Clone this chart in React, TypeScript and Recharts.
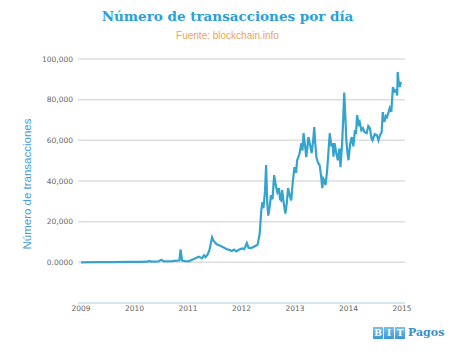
import React from 'react';
import { LineChart, Line, XAxis, YAxis, CartesianGrid } from 'recharts';

const years: number[] = [
  2009.0, 2009.3, 2009.6, 2009.9, 2010.1, 2010.25, 2010.28, 2010.31, 2010.45, 2010.5,
  2010.55, 2010.7, 2010.8, 2010.84, 2010.86, 2010.89, 2010.95, 2011.01, 2011.1, 2011.2,
  2011.26, 2011.3, 2011.33, 2011.37, 2011.4, 2011.45, 2011.48, 2011.53, 2011.58, 2011.65,
  2011.72, 2011.78, 2011.82, 2011.86, 2011.9, 2011.95, 2012.01, 2012.05, 2012.1, 2012.13,
  2012.18, 2012.24, 2012.3, 2012.34, 2012.37, 2012.39, 2012.41, 2012.44, 2012.46, 2012.48,
  2012.5, 2012.53, 2012.55, 2012.58, 2012.61, 2012.64, 2012.67, 2012.7, 2012.72, 2012.74,
  2012.76, 2012.79, 2012.82, 2012.85, 2012.87, 2012.9, 2012.93, 2012.96, 2012.99, 2013.02,
  2013.04, 2013.08, 2013.12, 2013.14, 2013.16, 2013.19, 2013.21, 2013.23, 2013.25, 2013.28,
  2013.31, 2013.34, 2013.36, 2013.38, 2013.4, 2013.43, 2013.46, 2013.49, 2013.51, 2013.53,
  2013.55, 2013.57, 2013.6, 2013.63, 2013.65, 2013.68, 2013.7, 2013.72, 2013.74, 2013.77,
  2013.8, 2013.83, 2013.85, 2013.88, 2013.9, 2013.92, 2013.94, 2013.96, 2013.98, 2014.0,
  2014.03, 2014.06, 2014.09, 2014.12, 2014.14, 2014.16, 2014.19, 2014.21, 2014.24, 2014.27,
  2014.3, 2014.34, 2014.37, 2014.4, 2014.43, 2014.45, 2014.49, 2014.53, 2014.56, 2014.59,
  2014.62, 2014.64, 2014.67, 2014.7, 2014.72, 2014.75, 2014.77, 2014.8, 2014.83, 2014.86,
  2014.89, 2014.91, 2014.92, 2014.94, 2014.96, 2014.98,
];

const transactions: number[] = [
  0, 100, 150, 200, 250, 300, 700, 300, 400, 1300,
  500, 600, 800, 1000, 6300, 900, 600, 500, 1500, 2800,
  2000, 3500, 2500, 4000, 6000, 12300, 10500, 9000, 8400, 7500,
  6600, 6000, 5600, 6300, 5400, 6200, 6800, 6500, 9500, 7200,
  7000, 7800, 8600, 14000, 25600, 29600, 26600, 35000, 47800, 30000,
  23000, 28000, 33000, 31000, 42900, 38000, 34500, 36500, 31000, 30500,
  35500, 29000, 24000, 30000, 36500, 33000, 30500, 40000, 46800, 44000,
  50200, 53000, 58600, 55000, 63500, 57000, 51700, 56000, 61600, 58000,
  53700, 60000, 66500, 58000, 51700, 49000, 47800, 42000, 36500, 41000,
  40000, 38000, 45000, 56000, 63500, 57000, 58600, 52000, 58600, 54000,
  50200, 56000, 46800, 58000, 70000, 83500, 72000, 60000, 54000, 50200,
  58000, 61600, 57000, 65000, 63000, 72400, 68000, 69000, 65000, 66000,
  64000, 63500, 67000, 66000, 61000, 60000, 63000, 62600, 60000, 62600,
  64000, 73900, 69000, 72000, 71400, 74000, 75900, 74000, 86200, 84000,
  84700, 82000, 93600, 88000, 86200, 88700,
];

const xTicks: number[] = [2009, 2010, 2011, 2012, 2013, 2014, 2015];
const yTicks: number[] = [0, 20000, 40000, 60000, 80000, 100000];

const data = years.map((y, i) => ({ year: y, tx: transactions[i] }));

const fmtY = (v: number) => (v === 0 ? '0.0000' : v.toLocaleString('en-US'));

const boxStyle: React.CSSProperties = {
  width: 10,
  height: 12,
  background: 'linear-gradient(180deg,#7cc0ea 0%,#3d97d6 100%)',
  color: '#fff',
  fontFamily: '"DejaVu Serif", serif',
  fontWeight: 'bold',
  fontSize: 9,
  lineHeight: '12px',
  textAlign: 'center',
  marginRight: 1,
};

export default function App() {
  return (
    <div style={{ position: 'absolute', left: 0, top: 0, width: 455, height: 356, background: '#fff', overflow: 'hidden' }}>
      <div
        style={{
          position: 'absolute', left: 0, top: 8, width: 455, textAlign: 'center',
          fontFamily: '"DejaVu Serif", serif', fontWeight: 'bold', fontSize: 13.5,
          color: '#29a0d8', whiteSpace: 'nowrap',
        }}
      >
        Número de transacciones por día
      </div>
      <div
        style={{
          position: 'absolute', left: 0, top: 30, width: 455, textAlign: 'center',
          fontFamily: '"Liberation Sans", Arial, sans-serif', fontSize: 10,
          color: '#eaa457', whiteSpace: 'nowrap',
        }}
      >
        Fuente: blockchain.info
      </div>
      <div
        style={{
          position: 'absolute', left: 27, top: 184, width: 0, height: 0,
        }}
      >
        <div
          style={{
            position: 'absolute', left: -80, top: -8, width: 160, textAlign: 'center',
            transform: 'rotate(-90deg)', fontFamily: '"Liberation Sans", Arial, sans-serif',
            fontSize: 11.5, color: '#43a0da', whiteSpace: 'nowrap', lineHeight: '16px',
          }}
        >
          Número de transacciones
        </div>
      </div>
      <LineChart
        width={455}
        height={356}
        data={data}
        margin={{ top: 59, right: 50, left: 0, bottom: 33 }}
      >
        <CartesianGrid vertical={false} stroke="#dedede" strokeWidth={1.5} />
        <XAxis
          dataKey="year"
          type="number"
          domain={[2009, 2015]}
          ticks={xTicks}
          padding={{ left: 3, right: 3 }}
          height={20}
          tickLine={false}
          tickSize={0}
          tickMargin={3}
          axisLine={{ stroke: '#cfe6ef', strokeWidth: 1.5 }}
          tick={{ fill: '#666', fontSize: 7.5, fontFamily: '"DejaVu Sans", sans-serif' }}
        />
        <YAxis
          type="number"
          domain={[-20000, 100000]}
          ticks={yTicks}
          width={78}
          tickFormatter={fmtY}
          axisLine={false}
          tickLine={false}
          tickSize={0}
          tickMargin={5}
          tick={{ fill: '#666', fontSize: 7.5, fontFamily: '"DejaVu Sans", sans-serif' }}
        />
        <Line
          type="linear"
          dataKey="tx"
          stroke="#35a3cc"
          strokeWidth={2.2}
          dot={false}
          isAnimationActive={false}
        />
      </LineChart>
      <div style={{ position: 'absolute', left: 373, top: 327, display: 'flex', alignItems: 'center' }}>
        <div style={boxStyle}>B</div>
        <div style={boxStyle}>I</div>
        <div style={boxStyle}>T</div>
        <div
          style={{
            marginLeft: 2, fontFamily: '"DejaVu Serif", serif', fontWeight: 'bold',
            fontSize: 11, color: '#3b8fc8', lineHeight: '12px',
          }}
        >
          Pagos
        </div>
      </div>
    </div>
  );
}
